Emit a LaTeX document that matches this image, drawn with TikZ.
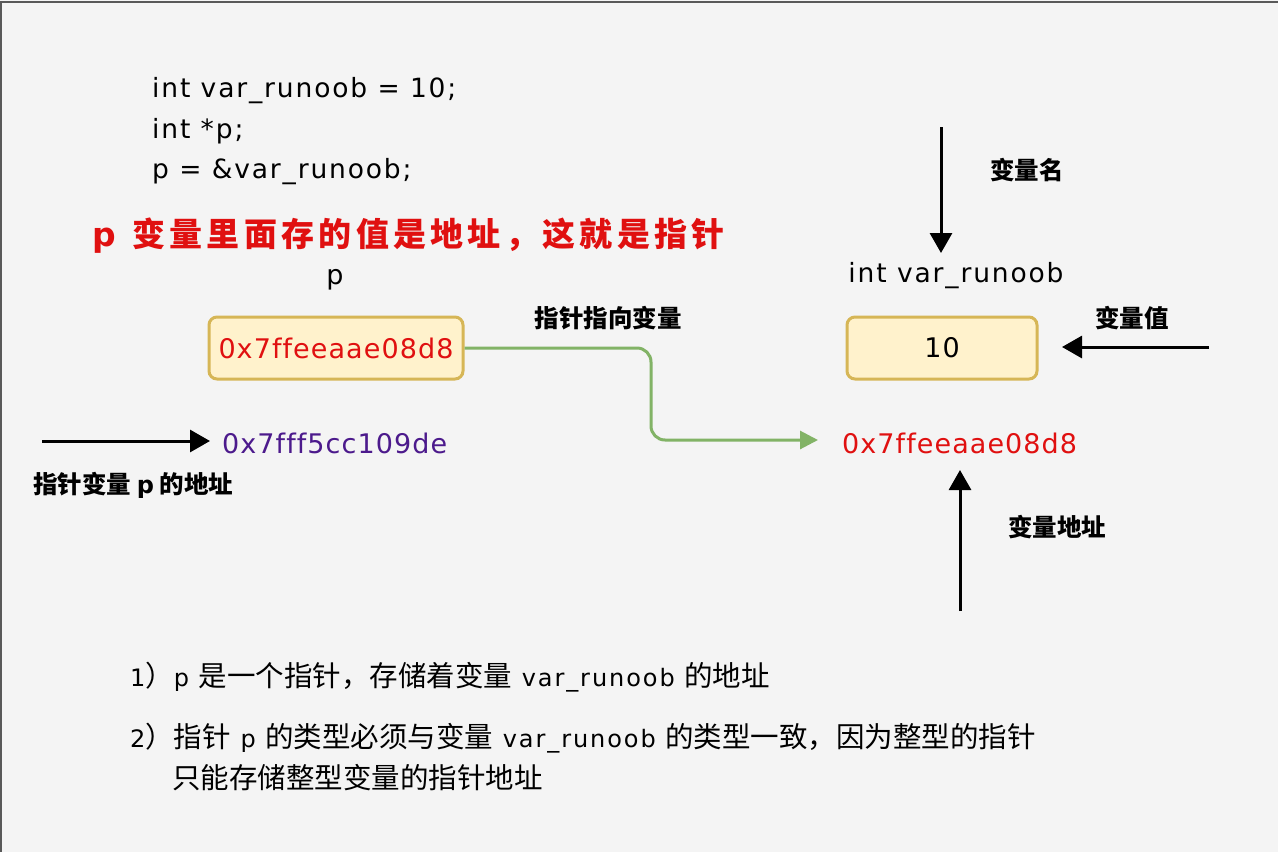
\documentclass[tikz,border=0pt]{standalone}
\usepackage{fontspec}
\setmainfont{DejaVu Sans}[Ligatures=NoCommon]
\newfontfamily\cj{Noto Sans CJK SC}
\newfontfamily\cjw{Noto Sans CJK SC}[LetterSpace=13]
\newfontfamily\latwide{DejaVu Sans}[LetterSpace=7,Ligatures=NoCommon]
\newfontfamily\lataddr{DejaVu Sans}[LetterSpace=4,Ligatures=NoCommon]
\newfontfamily\latnote{DejaVu Sans}[LetterSpace=8,Ligatures=NoCommon]
\usetikzlibrary{arrows.meta}
\definecolor{bg}{HTML}{F4F4F4}
\definecolor{boxfill}{HTML}{FFF2CC}
\definecolor{boxdraw}{HTML}{D6B656}
\definecolor{green1}{HTML}{82B366}
\definecolor{red1}{HTML}{E01010}
\definecolor{purple1}{HTML}{4C1A8C}
\tikzset{
  code/.style={anchor=west, font=\latwide\fontsize{26.5}{30}\selectfont, inner sep=0pt},
  lbl/.style={font=\cj\bfseries\fontsize{24.5}{30}\selectfont, inner sep=0pt},
  memval/.style={draw=boxdraw, fill=boxfill, line width=3pt, rounded corners=8pt, minimum height=62pt, inner sep=0pt, font=\lataddr\fontsize{27}{30}\selectfont},
  addr/.style={font=\lataddr\fontsize{27}{30}\selectfont, inner sep=0pt},
  blk/.style={-{Triangle[length=20pt,width=22pt]}, line width=3pt},
  note/.style={anchor=west, font=\latnote\fontsize{24}{30}\selectfont, inner sep=0pt}
}
\newcommand{\zh}[1]{{\cj\fontsize{28.5}{30}\selectfont #1}}
\begin{document}
\begin{tikzpicture}[x=1pt,y=-1pt]
\useasboundingbox (0,0) rectangle (1278,852);
\fill[bg] (0,0) rectangle (1278,852);
\draw[gray!70!black, line width=1.5pt] (1,860) -- (1,2) -- (1290,2);
% code
\node[code] (c1) at (152,91) {int var\_runoob = 10;};
\node[code] (c2) at (152,131) {int *p;};
\node[code] (c3) at (152,172) {p = \&var\_runoob;};
\node[anchor=west, inner sep=0pt, text=red1, font=\bfseries\fontsize{33}{40}\selectfont] (title) at (92,236) {p\hspace{0.5em}{\cjw 变量里面存的值是地址，这就是指针}};
% pointer p
\node[addr] (plabel) at (335,280) {p};
\node[memval, minimum width=254pt, text=red1] (pbox) at (336,348) {0x7ffeeaae08d8};
\node[lbl] (pointlbl) at (608,318) {指针指向变量};
% variable
\node[code, anchor=center] (vlabel) at (956,276) {int var\_runoob};
\node[memval, minimum width=190pt] (vbox) at (942,348) {10};
\node[addr, anchor=west, text=red1] (vaddr) at (842,443) {0x7ffeeaae08d8};
\node[addr, anchor=west, text=purple1] (paddr) at (222,443) {0x7fff5cc109de};
% labels
\node[lbl] (namelbl) at (1027,170) {变量名};
\node[lbl] (vallbl) at (1132,318) {变量值};
\node[lbl] (addrlbl) at (1057,527) {变量地址};
\node[lbl, anchor=west] (paddrlbl) at (33,485) {指针变量 {\normalfont\bfseries\fontsize{24}{30}\selectfont p} 的地址};
% arrows
\coordinate (ntop) at (941,127);
\coordinate (vright) at (1209,347);
\coordinate (abot) at (960,611);
\coordinate (pleft) at (42,441);
\draw[blk] (ntop) -- (941,253);
\draw[blk] (vright) -- (1062,347);
\draw[blk] (abot) -- (960,470);
\draw[blk] (pleft) -- (210,441);
\draw[green1, line width=3pt, rounded corners=14pt, -{Triangle[length=18pt,width=18pt]}] (pbox.east) -- (651,348) -- (651,440) -- (818,440);
% notes
\node[note] (n1) at (130,677) {1\zh{）}p \zh{是一个指针，存储着变量} var\_runoob \zh{的地址}};
\node[note] (n2) at (130,738) {2\zh{）指针} p \zh{的类型必须与变量} var\_runoob \zh{的类型一致，因为整型的指针}};
\node[note] (n3) at (172,778) {\zh{只能存储整型变量的指针地址}};
\end{tikzpicture}
\end{document}
